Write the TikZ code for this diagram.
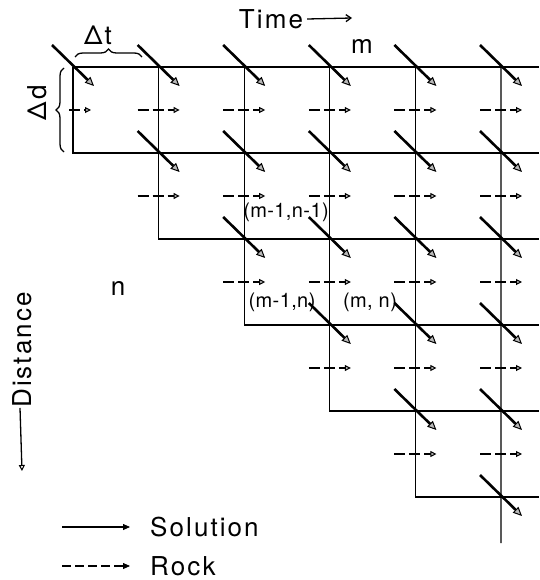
\documentclass[tikz,border=0pt]{standalone}
\usepackage{fontspec}
\setmainfont{TeX Gyre Heros}[LetterSpace=8]
\usetikzlibrary{positioning, arrows.meta, calc, decorations.pathreplacing}

\tikzset{
  gridline/.style={line width=1.3pt},
  solflow/.style={line width=2.6pt,
    -{Triangle[length=9pt, width=8pt, fill=gray!55, line width=1pt]}},
  rockflow/.style={line width=2.3pt, dash pattern=on 11pt off 4pt,
    -{Triangle[length=6pt, width=6pt, fill=gray!55, line width=1pt]}},
  legendsol/.style={line width=2.2pt, -{Triangle[length=7pt, width=6pt, line width=0.8pt]}},
  legendrock/.style={line width=2.2pt, dash pattern=on 9pt off 4pt,
    -{Triangle[length=7pt, width=6pt, line width=0.8pt]}},
  bigtext/.style={font=\fontsize{26}{30}\selectfont, inner sep=0pt},
  ptlabel/.style={font=\fontsize{20}{24}\selectfont\addfontfeatures{LetterSpace=2}, inner sep=0pt},
  curly/.style={decorate, decoration={brace, amplitude=8pt}, line width=1.3pt}
}

\begin{document}
\begin{tikzpicture}[x=1pt, y=-1pt]
  \useasboundingbox (0,0) rectangle (539,580);

  % grid points and row mid points
  \foreach \i in {0,...,5}{
    \foreach \j in {0,...,5}{
      \coordinate (g-\i-\j) at ({73+85.6*\j},{67+86*\i});
      \coordinate (r-\i-\j) at ({73+85.6*\j},{110+86*\i});
    }
    \coordinate (e-\i) at (539,{67+86*\i});
  }
  \coordinate (e-6) at (539,583);
  \coordinate (bottom) at (501,543);

  % staircase grid
  \draw[gridline] (g-0-0) -- (e-0);
  \foreach \j [evaluate=\j as \k using int(\j+1)] in {0,...,4}
    \draw[gridline] (g-0-\j) -- (g-\k-\j) -- (e-\k);
  \draw[gridline] (g-0-5) -- (bottom);

  % solution and rock arrows
  \foreach \i in {0,...,5}{
    \foreach \j in {\i,...,5}{
      \draw[solflow] ($(g-\i-\j)+(-21,-22)$) -- ($(g-\i-\j)+(21,19)$);
    }
  }
  \foreach \i in {0,...,4}{
    \foreach \j in {\i,...,5}{
      \ifnum\j=0
        \draw[rockflow] ($(r-\i-\j)+(-4,0)$) -- ($(r-\i-\j)+(18,0)$);
      \else
        \draw[rockflow] ($(r-\i-\j)+(-21,0)$) -- ($(r-\i-\j)+(21,0)$);
      \fi
    }
  }

  % braces
  \draw[curly] (75,57) -- (142,57);
  \node[bigtext] (dt) at (98,35) {Δt};
  \draw[curly] (64,152) -- (64,68);
  \node[bigtext, rotate=90] (dd) at (37,103) {Δd};

  % axis labels
  \node[bigtext] (time) at (271,19) {Time};
  \coordinate (timeend) at (352,18);
  \draw[line width=1.3pt, -{Straight Barb[length=5pt, width=7pt]}] ([xshift=4pt]time.east) -- (timeend);
  \node[bigtext] (mlabel) at (362,46) {m};
  \node[bigtext] (nlabel) at (118,288) {n};
  \node[bigtext, rotate=90] (dist) at (22,350) {Distance};
  \coordinate (distend) at (22,471);
  \draw[line width=1.3pt, -{Triangle[length=6pt, width=6pt, open, line width=1pt]}] ([xshift=-2pt]dist.west) -- (distend);

  % node labels
  \node[ptlabel] (p11) at (286,212) {(m-1,n-1)};
  \node[ptlabel] (p10) at (282,302) {(m-1,n)};
  \node[ptlabel] (p00) at (370,302) {(m, n)};

  % legend
  \coordinate (solA) at (62,527);
  \coordinate (solB) at (130,527);
  \coordinate (rockA) at (62,566);
  \coordinate (rockB) at (130,566);
  \draw[legendsol] (solA) -- (solB);
  \draw[legendrock] (rockA) -- (rockB);
  \node[bigtext, anchor=west] (sollbl) at (150,527) {Solution};
  \node[bigtext, anchor=west] (rocklbl) at (150,566) {Rock};
\end{tikzpicture}
\end{document}
